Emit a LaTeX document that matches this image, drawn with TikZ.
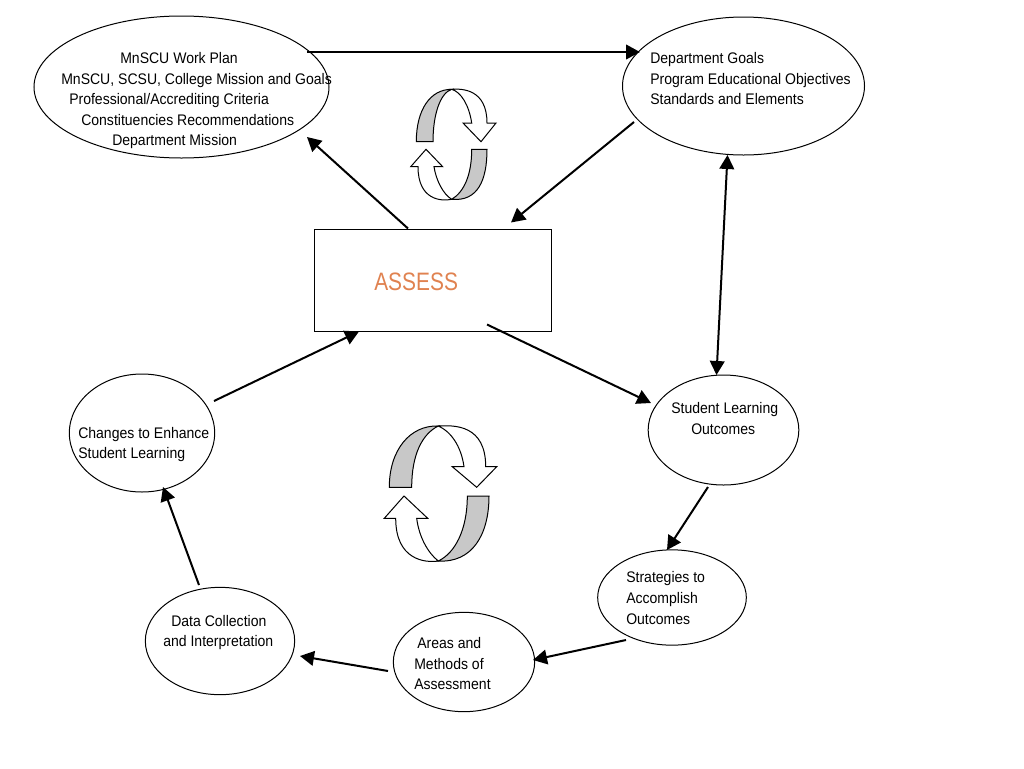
\documentclass[tikz,border=0pt]{standalone}
\usepackage{fontspec}
\setmainfont[FakeStretch=0.915]{Liberation Sans}
\newfontfamily\assessfont[FakeStretch=0.83]{Liberation Sans}
\usetikzlibrary{arrows.meta,shapes.geometric,calc}
\definecolor{assess}{RGB}{224,130,80}
\definecolor{shade}{RGB}{200,200,200}
\tikzset{
  bub/.style={draw,ellipse,inner sep=0pt,line width=0.75pt},
  lbl/.style={anchor=base west,inner sep=0pt,font=\fontsize{11.5}{13}\selectfont},
  conn/.style={line width=1.5pt,-{Triangle[length=10.5pt,width=11pt]}},
  dconn/.style={line width=1.5pt,{Triangle[length=10.5pt,width=11pt]}-{Triangle[length=10.5pt,width=11pt]}},
  icon/.style={draw,line width=0.75pt,line join=miter}
}
\begin{document}
\begin{tikzpicture}[x=0.75pt,y=-0.75pt]
\useasboundingbox (0,0) rectangle (1024,768);
\node[bub,minimum width=221.25pt,minimum height=106.5pt] (e1) at (181.5,87) {};
\node[bub,minimum width=181.5pt,minimum height=103.5pt] (e2) at (743.5,86) {};
\node[draw,line width=0.75pt,minimum width=177.75pt,minimum height=76.5pt,inner sep=0pt] (box) at (433,280) {};
\node[bub,minimum width=113pt,minimum height=82.5pt] (slo) at (723.5,430) {};
\node[bub,minimum width=111.5pt,minimum height=71.5pt] (strat) at (672,597.5) {};
\node[bub,minimum width=106pt,minimum height=74.5pt] (areas) at (464,662) {};
\node[bub,minimum width=112pt,minimum height=80.5pt] (data) at (220,641) {};
\node[bub,minimum width=109pt,minimum height=88.5pt] (chg) at (142,433) {};
% texts
\node[lbl] (t1) at (120,63.5) {MnSCU Work Plan};
\node[lbl] (t2) at (61,84.3) {MnSCU, SCSU, College Mission and Goals};
\node[lbl] (t3) at (69,104.7) {Professional/Accrediting Criteria};
\node[lbl] (t4) at (81,125.5) {Constituencies Recommendations};
\node[lbl] (t5) at (112,145.5) {Department Mission};
\node[lbl] (t6) at (650,63) {Department Goals};
\node[lbl] (t7) at (650,84) {Program Educational Objectives};
\node[lbl] (t8) at (650,104) {Standards and Elements};
\node[lbl,font=\assessfont\fontsize{18.9}{20}\selectfont,text=assess] (t9) at (374,290) {ASSESS};
\node[lbl] (t10) at (671,413) {Student Learning};
\node[lbl] (t11) at (691,434) {Outcomes};
\node[lbl] (t12) at (626,582) {Strategies to};
\node[lbl] (t13) at (626,603) {Accomplish};
\node[lbl] (t14) at (626,624) {Outcomes};
\node[lbl] (t15) at (417,648) {Areas and};
\node[lbl] (t16) at (414,669) {Methods of};
\node[lbl] (t17) at (414,689) {Assessment};
\node[lbl] (t18) at (171,626) {Data Collection};
\node[lbl] (t19) at (163,646) {and Interpretation};
\node[lbl] (t20) at (78,438) {Changes to Enhance};
\node[lbl] (t21) at (78,458) {Student Learning};
% connectors
\draw[conn] ($(e1)+(125.5,-35)$) -- ($(e2)+(-103.5,-34)$);
\draw[conn] ($(e2)+(-109.5,36)$) -- ($(box.north)+(78,-6)$);
\draw[conn] ($(box.north)+(-25,0)$) -- ($(e1)+(125.5,50)$);
\draw[dconn] ($(e2)+(-16,69)$) -- ($(slo)+(-7,-55)$);
\draw[conn] ($(box.south)+(54,-7)$) -- ($(slo)+(-72.5,-27)$);
\draw[conn] ($(slo)+(-15.5,57)$) -- ($(strat)+(-5,-47.5)$);
\draw[conn] ($(strat)+(-46,42.5)$) -- ($(areas)+(69,-2)$);
\draw[conn] ($(areas)+(-76,9)$) -- ($(data)+(80,15)$);
\draw[conn] ($(data)+(-21,-56)$) -- ($(chg)+(21,54)$);
\draw[conn] ($(chg)+(72,-32)$) -- ($(box.south)+(-74,0)$);
% small icon
\draw[icon,fill=white] (451.7,89.3) .. controls (462,88.5) and (487,89) .. (487,123) -- (496,123) -- (481,141.7) -- (463,123) -- (471.7,123) .. controls (469,105) and (461,92) .. (451.7,89.3) -- cycle;
\draw[icon,fill=shade] (416.3,141.7) .. controls (416.3,110) and (430,89.3) .. (451.7,89.3) .. controls (440,93) and (433,115) .. (433,141.7) -- cycle;
\draw[icon,fill=white] (451.7,199.3) .. controls (441,201.5) and (418,200) .. (418,166.7) -- (410.7,166.7) -- (426,149.3) -- (442.7,166.7) -- (434,166.7) .. controls (436,180) and (443,194) .. (451.7,199.3) -- cycle;
\draw[icon,fill=shade] (471.7,149.3) -- (487,149.3) .. controls (487,180) and (478,201.7) .. (451.7,199.3) .. controls (464,192) and (471.7,175) .. (471.7,149.3) -- cycle;
% large icon
\draw[icon,fill=white] (438.3,426) .. controls (455,425) and (485.7,425) .. (485.7,466.7) -- (496.7,466.7) -- (476.7,487.3) -- (452.3,466.7) -- (464,466.7) .. controls (461,445) and (450,431) .. (438.3,426) -- cycle;
\draw[icon,fill=shade] (389.3,487.3) .. controls (389.3,450) and (410,425) .. (438.3,426) .. controls (422,434) and (411.7,455) .. (411.7,487.3) -- cycle;
\draw[icon,fill=white] (438.3,561) .. controls (425,563) and (395.7,560) .. (395.7,518.3) -- (384.3,518.3) -- (404,496) -- (427.7,518.3) -- (416.7,518.3) .. controls (419,537) and (428,553) .. (438.3,561) -- cycle;
\draw[icon,fill=shade] (467.3,496) -- (489,496) .. controls (489,535) and (472,563) .. (438.3,561) .. controls (455,553) and (467.3,530) .. (467.3,496) -- cycle;
\end{tikzpicture}
\end{document}
